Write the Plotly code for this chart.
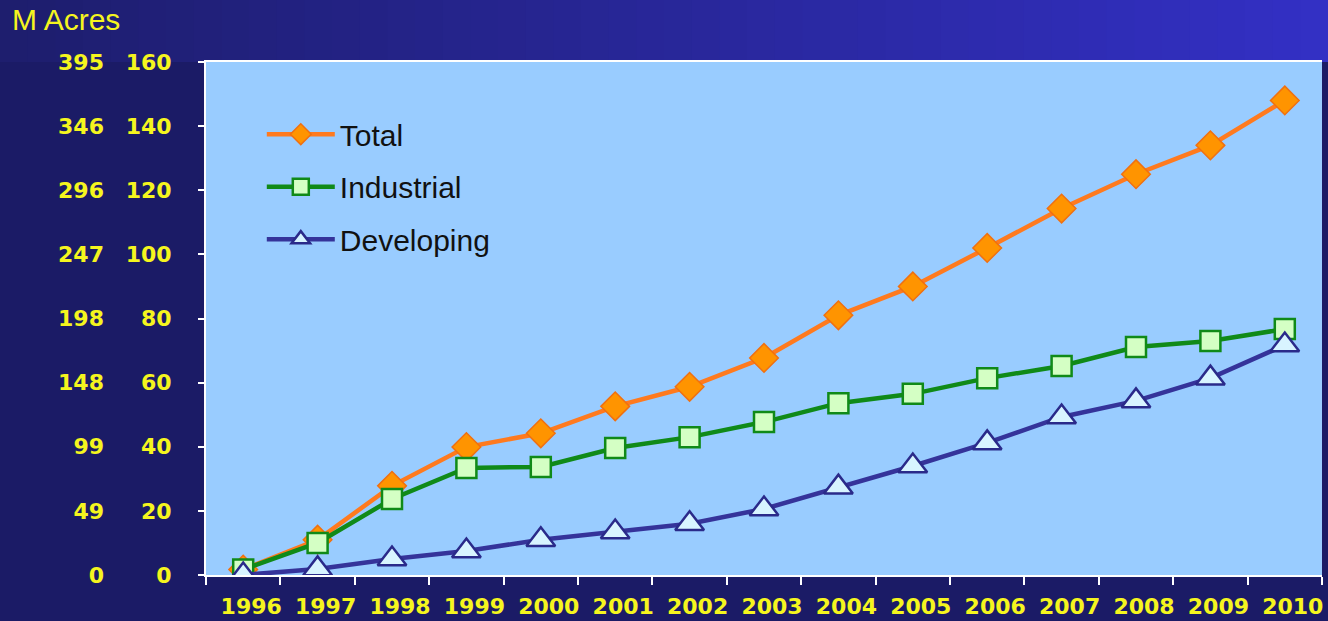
import plotly.graph_objects as go

years = [str(y) for y in range(1996, 2011)]
total = [1.7, 11.0, 27.8, 39.9, 44.2, 52.6, 58.7, 67.7, 81.0, 90.0, 102.0, 114.3, 125.0, 134.0, 148.0]
industrial = [1.7, 10.0, 23.7, 33.4, 33.7, 39.6, 43.0, 47.7, 53.6, 56.5, 61.4, 65.2, 71.1, 73.0, 76.7]
developing = [0.0, 1.9, 5.0, 7.5, 11.0, 13.4, 16.0, 20.6, 27.4, 34.0, 41.2, 49.3, 54.3, 61.4, 71.7]

hectare_ticks = [0, 20, 40, 60, 80, 100, 120, 140, 160]
acre_labels = ["0", "49", "99", "148", "198", "247", "296", "346", "395"]

FONT = "Arial, Liberation Sans, sans-serif"
TICKFONT = "DejaVu Sans, Arial, sans-serif"
YELLOW = "#F5F51E"

fig = go.Figure()
fig.add_trace(go.Scatter(
    x=years, y=total, name="Total", mode="lines+markers", legendgroup="a",
    line=dict(color="#FF7A1E", width=4.5),
    marker=dict(symbol="diamond", size=22, color="#FF9400",
                line=dict(color="#F07010", width=1.5))))
fig.add_trace(go.Scatter(
    x=years, y=industrial, name="Industrial", mode="lines+markers", legendgroup="b",
    line=dict(color="#108A18", width=4.5),
    marker=dict(symbol="square", size=20, color="#D4FFC4",
                line=dict(color="#108A18", width=2.5))))
fig.add_trace(go.Scatter(
    x=years, y=developing, name="Developing", mode="lines+markers", legendgroup="c",
    line=dict(color="#35339A", width=4.5),
    marker=dict(symbol="triangle-up", size=25, color="#D8F4FF",
                line=dict(color="#2A2A8A", width=2.5))))
# invisible trace to carry the acre axis
fig.add_trace(go.Scatter(x=years, y=total, yaxis="y2", mode="markers",
                         marker=dict(opacity=0), showlegend=False, hoverinfo="skip"))

# top gradient band
W, H = 1328, 621
L, R, T, B = 206, 6, 62, 46
pw, ph = W - L - R, H - T - B
shapes = []
n = 48
c0 = (0x1E, 0x1E, 0x6E)
c1 = (0x33, 0x30, 0xC4)
for i in range(n):
    f = i / (n - 1)
    c = tuple(int(c0[k] + (c1[k] - c0[k]) * f) for k in range(3))
    x0 = (-L + W * i / n) / pw
    x1 = (-L + W * (i + 1) / n) / pw + 0.002
    shapes.append(dict(type="rect", xref="paper", yref="paper",
                       x0=x0, x1=x1, y0=1.0, y1=1 + T / ph + 0.01,
                       fillcolor="rgb(%d,%d,%d)" % c, line=dict(width=0), layer="below"))

fig.update_layout(
    width=W, height=H,
    margin=dict(l=L, r=R, t=T, b=B, autoexpand=False),
    paper_bgcolor="#1B1B66",
    plot_bgcolor="#99CCFF",
    shapes=shapes,
    showlegend=True,
    legend=dict(x=0.05, y=0.91, xanchor="left", yanchor="top",
                bgcolor="rgba(0,0,0,0)", font=dict(family=FONT, size=30, color="#111111"),
                tracegroupgap=10.5, itemwidth=68),
    xaxis=dict(type="category", tickson="boundaries", ticks="outside", ticklen=8,
               tickcolor="white", tickwidth=2, showline=True, linecolor="white",
               linewidth=2, mirror=True, showgrid=False, zeroline=False,
               ticklabelstandoff=11, ticklabelshift=8, automargin=False,
               tickfont=dict(family=TICKFONT, size=22, color=YELLOW, weight="bold"),
               range=[-0.5, 14.5]),
    yaxis=dict(range=[0, 160], tickvals=hectare_ticks, ticks="outside", ticklen=6,
               tickcolor="white", tickwidth=2, showline=True, linecolor="white",
               linewidth=2, showgrid=False, zeroline=False, ticklabelstandoff=22,
               automargin=False,
               tickfont=dict(family=TICKFONT, size=22, color=YELLOW, weight="bold")),
    yaxis2=dict(range=[0, 160], overlaying="y", side="left", anchor="free", position=0,
                tickvals=hectare_ticks, ticktext=acre_labels, ticks="", showline=False,
                showgrid=False, zeroline=False, ticklabelstandoff=102, automargin=False,
                tickfont=dict(family=TICKFONT, size=22, color=YELLOW, weight="bold")),
    annotations=[dict(text="M Acres", xref="paper", yref="paper",
                      x=-L / pw + 10 / pw, y=1 + (T - 19) / ph, xanchor="left", yanchor="middle",
                      showarrow=False, font=dict(family=FONT, size=30, color=YELLOW))],
)

fig.write_html("out.html", config={"displayModeBar": False},
               post_script="document.body.style.margin='0';")
